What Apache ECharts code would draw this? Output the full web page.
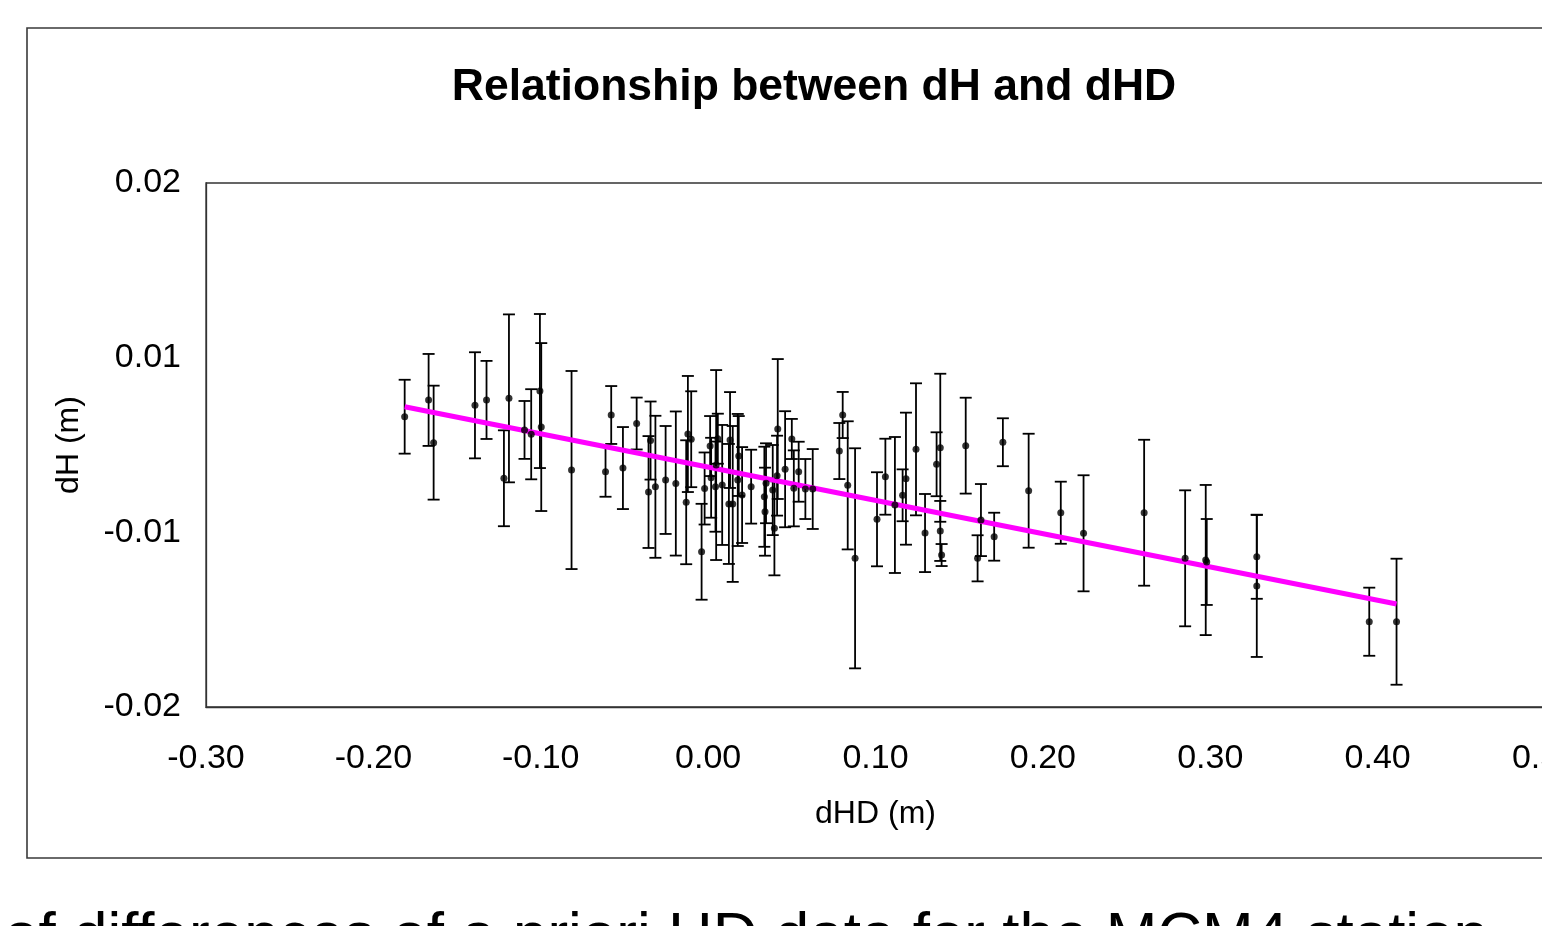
<!DOCTYPE html>
<html>
<head>
<meta charset="utf-8">
<script src="https://cdn.jsdelivr.net/npm/echarts@6/dist/echarts.min.js"></script>
<style>
html,body{margin:0;padding:0;background:#fff;}
#chart{width:1542px;height:926px;}
</style>
</head>
<body>
<div id="chart"></div>
<script>
// dHD (m) values
const dHD = [
 -0.1813,-0.1670,-0.1640,-0.1393,-0.1324,-0.1220,-0.1190,-0.1097,-0.1057,-0.1005,
 -0.0997,-0.0816,-0.0613,-0.0579,-0.0509,-0.0427,-0.0344,-0.0356,-0.0315,-0.0254,
 -0.0193,-0.0121,-0.0101,-0.0131,-0.0039,-0.0021,0.0012,0.0018,0.0044,0.0048,
 0.0058,0.0084,0.0131,0.0124,0.0147,0.0177,0.0183,0.0203,0.0257,0.0336,
 0.0340,0.0346,0.0386,0.0396,0.0412,0.0416,0.0460,0.0500,0.0512,0.0541,
 0.0581,0.0625,0.0784,0.0804,0.0834,0.0878,0.1009,0.1059,0.1116,0.1162,
 0.1182,0.1242,0.1296,0.1365,0.1387,0.1387,0.1395,0.1539,0.1610,0.1630,
 0.1709,0.1761,0.1915,0.2107,0.2243,0.2605,0.2850,0.2973,0.2979,0.3278,
 0.3278,0.3950,0.4113
];
// dH (m) values
const dH = [
 0.00216,0.00344,0.00018,0.00303,0.00344,-0.00254,0.00356,0.00115,0.00082,0.00412,
 0.00137,-0.00191,-0.00204,0.00229,-0.00176,0.00164,0.00034,-0.00359,-0.00319,-0.00267,
 -0.00294,0.00084,0.00044,-0.00437,-0.00815,-0.00332,-0.00008,-0.00250,-0.00318,-0.00153,
 0.00048,-0.00305,0.00038,-0.00450,-0.00450,-0.00267,-0.00084,-0.00382,-0.00318,-0.00395,
 -0.00509,-0.00292,-0.00344,-0.00636,-0.00234,0.00122,-0.00185,0.00046,-0.00331,-0.00204,
 -0.00336,-0.00336,-0.00046,0.00229,-0.00308,-0.00865,-0.00567,-0.00242,-0.00458,-0.00384,
 -0.00257,-0.00033,-0.00672,-0.00147,-0.00021,-0.00656,-0.00840,-0.00005,-0.00865,-0.00573,
 -0.00700,0.00021,-0.00349,-0.00517,-0.00674,-0.00517,-0.00865,-0.00878,-0.00893,-0.00853,
 -0.01076,-0.01349,-0.01349
];
// error (+/-) on dH (m)
const dHErr = [
 0.00282,0.00351,0.00435,0.00405,0.00298,0.00366,0.00641,0.00221,0.00344,0.00588,
 0.00641,0.00756,0.00191,0.00221,0.00313,0.00198,0.00298,0.00427,0.00542,0.00412,
 0.00550,0.00443,0.00366,0.00473,0.00366,0.00275,0.00229,0.00305,0.00344,0.00725,
 0.00191,0.00458,0.00366,0.00458,0.00595,0.00504,0.00305,0.00366,0.00282,0.00382,
 0.00336,0.00305,0.00344,0.00359,0.00305,0.00534,0.00443,0.00153,0.00290,0.00229,
 0.00229,0.00305,0.00214,0.00176,0.00489,0.00840,0.00359,0.00290,0.00519,0.00198,
 0.00504,0.00504,0.00298,0.00244,0.00565,0.00229,0.00084,0.00366,0.00176,0.00275,
 0.00183,0.00183,0.00435,0.00237,0.00443,0.00557,0.00519,0.00573,0.00328,0.00321,
 0.00542,0.00260,0.00481
];
// linear trend line end points [dHD, dH]
const trendX = [-0.1813, 0.4113];
const trendY = [0.00292, -0.01214];

const titleText = 'Relationship between dH and dHD';
const xName = 'dHD (m)';
const yName = 'dH (m)';
const captionText = 'of differences of a priori HD data for the MCM4 station';

const pts = dHD.map((x, i) => [x, dH[i], dHErr[i]]);
const trend = trendX.map((x, i) => [x, trendY[i]]);

const chart = echarts.init(document.getElementById('chart'), null, {renderer: 'canvas'});
const FONT = '"Liberation Sans", Arial, Helvetica, sans-serif';

chart.setOption({
  animation: false,
  backgroundColor: '#ffffff',
  title: {
    text: titleText,
    left: 809,
    top: 60,
    textAlign: 'center',
    textStyle: {fontFamily: FONT, fontSize: 44.5, fontWeight: 'bold', color: '#000'}
  },
  grid: {
    left: 206, top: 183, right: -3, bottom: 219,
    containLabel: false, outerBoundsMode: 'none',
    show: true, borderColor: '#333', borderWidth: 1.3, backgroundColor: 'transparent'
  },
  xAxis: {
    type: 'value', min: -0.3, max: 0.5, interval: 0.1,
    name: xName, nameLocation: 'middle', nameGap: 91,
    nameTextStyle: {fontFamily: FONT, fontSize: 32, color: '#000'},
    axisLine: {show: true, onZero: false, lineStyle: {color: '#333', width: 1.3}},
    axisTick: {show: false},
    splitLine: {show: false},
    axisLabel: {fontFamily: FONT, fontSize: 34, color: '#000', margin: 35,
      formatter: v => v.toFixed(2)}
  },
  yAxis: {
    type: 'value', min: -0.02, max: 0.02, interval: 0.04 / 3,
    name: yName, nameLocation: 'middle', nameGap: 121,
    nameTextStyle: {fontFamily: FONT, fontSize: 32, color: '#000'},
    axisLine: {show: true, onZero: false, lineStyle: {color: '#333', width: 1.3}},
    axisTick: {show: false},
    splitLine: {show: false},
    axisLabel: {fontFamily: FONT, fontSize: 34, color: '#000', margin: 25,
      formatter: v => (Math.abs(v) < 1e-9 ? 0 : v).toFixed(2)}
  },
  graphic: [
    {type: 'rect', silent: true, z: 100,
     shape: {x: 27, y: 28, width: 1600, height: 830},
     style: {fill: 'none', stroke: '#3a3a3a', lineWidth: 1.6}},
    {type: 'text', silent: true, z: 100,
     style: {x: 4, y: 938, text: captionText, fill: '#000',
       font: '62px "Liberation Sans", Arial, sans-serif',
       textAlign: 'left', textVerticalAlign: 'middle', verticalAlign: 'middle'}}
  ],
  series: [
    {
      type: 'custom',
      z: 1,
      data: pts,
      encode: {x: 0, y: 1},
      renderItem: function (params, api) {
        const x = api.value(0), y = api.value(1), e = api.value(2);
        const top = api.coord([x, y + e]);
        const bot = api.coord([x, y - e]);
        const hw = 6;
        const st = {stroke: '#000', lineWidth: 1.8};
        return {
          type: 'group',
          children: [
            {type: 'line', shape: {x1: top[0], y1: top[1], x2: bot[0], y2: bot[1]}, style: st},
            {type: 'line', shape: {x1: top[0] - hw, y1: top[1], x2: top[0] + hw, y2: top[1]}, style: st},
            {type: 'line', shape: {x1: bot[0] - hw, y1: bot[1], x2: bot[0] + hw, y2: bot[1]}, style: st}
          ]
        };
      }
    },
    {
      type: 'line',
      z: 2,
      data: trend,
      symbol: 'none',
      lineStyle: {color: '#ff00ff', width: 5},
      silent: true
    },
    {
      type: 'scatter',
      z: 3,
      data: pts.map(p => [p[0], p[1]]),
      symbol: 'circle',
      symbolSize: 7,
      itemStyle: {color: '#000'}
    }
  ]
});
</script>
</body>
</html>
